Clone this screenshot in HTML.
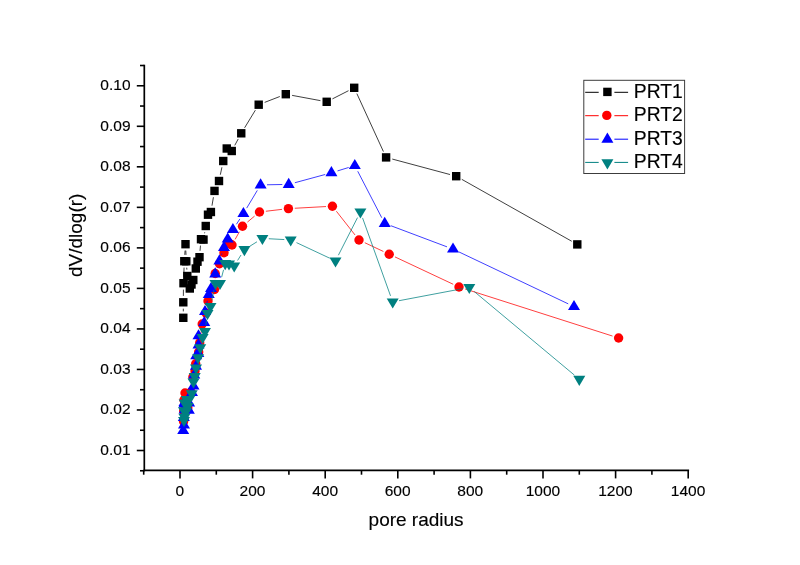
<!DOCTYPE html>
<html><head><meta charset="utf-8"><title>chart</title>
<style>html,body{margin:0;padding:0;background:#fff;width:800px;height:565px;overflow:hidden}</style></head>
<body>
<svg width="800" height="565" viewBox="0 0 800 565" style="display:block;position:absolute;left:0;top:0">
<rect width="800" height="565" fill="#fff"/>
<g stroke="#000" stroke-width="1.7" fill="none"><line x1="144.3" y1="64.7" x2="144.3" y2="471.25"/><line x1="143.45000000000002" y1="470.4" x2="689.1" y2="470.4"/></g>
<g stroke="#000" stroke-width="1.6" fill="none"><line x1="140.00" y1="470.76" x2="144.3" y2="470.76"/><line x1="136.80" y1="450.50" x2="144.3" y2="450.50"/><line x1="140.00" y1="430.24" x2="144.3" y2="430.24"/><line x1="136.80" y1="409.98" x2="144.3" y2="409.98"/><line x1="140.00" y1="389.71" x2="144.3" y2="389.71"/><line x1="136.80" y1="369.45" x2="144.3" y2="369.45"/><line x1="140.00" y1="349.19" x2="144.3" y2="349.19"/><line x1="136.80" y1="328.93" x2="144.3" y2="328.93"/><line x1="140.00" y1="308.66" x2="144.3" y2="308.66"/><line x1="136.80" y1="288.40" x2="144.3" y2="288.40"/><line x1="140.00" y1="268.14" x2="144.3" y2="268.14"/><line x1="136.80" y1="247.88" x2="144.3" y2="247.88"/><line x1="140.00" y1="227.61" x2="144.3" y2="227.61"/><line x1="136.80" y1="207.35" x2="144.3" y2="207.35"/><line x1="140.00" y1="187.09" x2="144.3" y2="187.09"/><line x1="136.80" y1="166.82" x2="144.3" y2="166.82"/><line x1="140.00" y1="146.56" x2="144.3" y2="146.56"/><line x1="136.80" y1="126.30" x2="144.3" y2="126.30"/><line x1="140.00" y1="106.04" x2="144.3" y2="106.04"/><line x1="136.80" y1="85.77" x2="144.3" y2="85.77"/><line x1="140.00" y1="65.51" x2="144.3" y2="65.51"/><line x1="143.70" y1="470.4" x2="143.70" y2="474.70"/><line x1="180.00" y1="470.4" x2="180.00" y2="478.40"/><line x1="216.30" y1="470.4" x2="216.30" y2="474.70"/><line x1="252.60" y1="470.4" x2="252.60" y2="478.40"/><line x1="288.90" y1="470.4" x2="288.90" y2="474.70"/><line x1="325.20" y1="470.4" x2="325.20" y2="478.40"/><line x1="361.50" y1="470.4" x2="361.50" y2="474.70"/><line x1="397.80" y1="470.4" x2="397.80" y2="478.40"/><line x1="434.10" y1="470.4" x2="434.10" y2="474.70"/><line x1="470.40" y1="470.4" x2="470.40" y2="478.40"/><line x1="506.70" y1="470.4" x2="506.70" y2="474.70"/><line x1="543.00" y1="470.4" x2="543.00" y2="478.40"/><line x1="579.30" y1="470.4" x2="579.30" y2="474.70"/><line x1="615.60" y1="470.4" x2="615.60" y2="478.40"/><line x1="651.90" y1="470.4" x2="651.90" y2="474.70"/><line x1="688.20" y1="470.4" x2="688.20" y2="478.40"/></g>
<g font-family="'Liberation Sans', Arial, sans-serif" font-size="15.5px" fill="#000" stroke="#000" stroke-width="0.15"><text x="130.5" y="455.00" text-anchor="end">0.01</text><text x="130.5" y="414.48" text-anchor="end">0.02</text><text x="130.5" y="373.95" text-anchor="end">0.03</text><text x="130.5" y="333.43" text-anchor="end">0.04</text><text x="130.5" y="292.90" text-anchor="end">0.05</text><text x="130.5" y="252.38" text-anchor="end">0.06</text><text x="130.5" y="211.85" text-anchor="end">0.07</text><text x="130.5" y="171.32" text-anchor="end">0.08</text><text x="130.5" y="130.80" text-anchor="end">0.09</text><text x="130.5" y="90.27" text-anchor="end">0.10</text><text x="179.90" y="495.5" text-anchor="middle">0</text><text x="252.50" y="495.5" text-anchor="middle">200</text><text x="325.10" y="495.5" text-anchor="middle">400</text><text x="397.70" y="495.5" text-anchor="middle">600</text><text x="470.30" y="495.5" text-anchor="middle">800</text><text x="542.90" y="495.5" text-anchor="middle">1000</text><text x="615.50" y="495.5" text-anchor="middle">1200</text><text x="688.10" y="495.5" text-anchor="middle">1400</text></g>
<g font-family="'Liberation Sans', Arial, sans-serif" font-size="19px" fill="#000" stroke="#000" stroke-width="0.15"><text x="416.1" y="525.7" text-anchor="middle">pore radius</text><text transform="translate(81.5,235.3) rotate(-90)" text-anchor="middle">dV/dlog(r)</text></g>
<g stroke="#000" stroke-width="0.75" fill="none"><line x1="183.30" y1="311.40" x2="183.30" y2="308.70"/><line x1="183.37" y1="295.90" x2="183.43" y2="289.60"/><line x1="183.73" y1="276.80" x2="184.07" y2="267.60"/><line x1="184.75" y1="254.82" x2="185.05" y2="250.58"/><line x1="185.80" y1="250.59" x2="186.00" y2="254.91"/><line x1="186.73" y1="267.69" x2="186.87" y2="269.61"/><line x1="200.03" y1="250.82" x2="200.47" y2="245.58"/><line x1="204.54" y1="233.29" x2="204.71" y2="232.31"/><line x1="211.98" y1="205.69" x2="213.42" y2="197.21"/><line x1="220.33" y1="174.74" x2="221.92" y2="167.26"/><line x1="234.78" y1="145.36" x2="238.22" y2="138.94"/><line x1="244.58" y1="127.84" x2="255.37" y2="110.16"/><line x1="264.67" y1="102.39" x2="279.83" y2="96.51"/><line x1="292.09" y1="95.37" x2="320.41" y2="100.63"/><line x1="332.40" y1="98.90" x2="348.50" y2="90.70"/><line x1="356.87" y1="93.62" x2="383.43" y2="151.58"/><line x1="392.28" y1="159.06" x2="450.02" y2="174.54"/><line x1="461.78" y1="179.34" x2="571.72" y2="241.26"/></g>
<g fill="#000"><rect x="179.10" y="313.60" width="8.4" height="8.4"/><rect x="179.10" y="298.10" width="8.4" height="8.4"/><rect x="179.30" y="279.00" width="8.4" height="8.4"/><rect x="180.10" y="257.00" width="8.4" height="8.4"/><rect x="181.30" y="240.00" width="8.4" height="8.4"/><rect x="182.10" y="257.10" width="8.4" height="8.4"/><rect x="183.10" y="271.80" width="8.4" height="8.4"/><rect x="185.60" y="284.30" width="8.4" height="8.4"/><rect x="187.30" y="280.30" width="8.4" height="8.4"/><rect x="189.10" y="275.80" width="8.4" height="8.4"/><rect x="191.60" y="264.30" width="8.4" height="8.4"/><rect x="193.30" y="257.50" width="8.4" height="8.4"/><rect x="195.30" y="253.00" width="8.4" height="8.4"/><rect x="196.80" y="235.00" width="8.4" height="8.4"/><rect x="199.30" y="235.40" width="8.4" height="8.4"/><rect x="201.55" y="221.80" width="8.4" height="8.4"/><rect x="203.80" y="210.50" width="8.4" height="8.4"/><rect x="206.70" y="207.80" width="8.4" height="8.4"/><rect x="210.30" y="186.70" width="8.4" height="8.4"/><rect x="214.80" y="176.80" width="8.4" height="8.4"/><rect x="219.05" y="156.80" width="8.4" height="8.4"/><rect x="222.55" y="144.30" width="8.4" height="8.4"/><rect x="227.55" y="146.80" width="8.4" height="8.4"/><rect x="237.05" y="129.10" width="8.4" height="8.4"/><rect x="254.50" y="100.50" width="8.4" height="8.4"/><rect x="281.60" y="90.00" width="8.4" height="8.4"/><rect x="322.50" y="97.60" width="8.4" height="8.4"/><rect x="350.00" y="83.60" width="8.4" height="8.4"/><rect x="381.90" y="153.20" width="8.4" height="8.4"/><rect x="452.00" y="172.00" width="8.4" height="8.4"/><rect x="573.10" y="240.20" width="8.4" height="8.4"/></g>
<g stroke="#f00" stroke-width="0.75" fill="none"><line x1="191.80" y1="385.65" x2="192.10" y2="383.35"/><line x1="200.54" y1="336.56" x2="201.36" y2="330.34"/><line x1="214.78" y1="283.11" x2="214.92" y2="279.89"/><line x1="235.12" y1="239.41" x2="239.38" y2="231.79"/><line x1="247.41" y1="222.10" x2="254.59" y2="216.10"/><line x1="265.86" y1="211.25" x2="282.04" y2="209.35"/><line x1="294.79" y1="208.25" x2="326.01" y2="206.55"/><line x1="336.36" y1="211.23" x2="355.04" y2="234.97"/><line x1="364.79" y1="242.72" x2="383.41" y2="251.48"/><line x1="394.99" y1="256.92" x2="453.21" y2="284.28"/><line x1="465.10" y1="288.95" x2="612.50" y2="336.05"/></g>
<g fill="#f00"><circle cx="183.60" cy="421.50" r="4.7"/><circle cx="183.70" cy="411.00" r="4.7"/><circle cx="187.80" cy="408.00" r="4.7"/><circle cx="184.00" cy="400.00" r="4.7"/><circle cx="185.00" cy="393.00" r="4.7"/><circle cx="191.00" cy="392.00" r="4.7"/><circle cx="192.90" cy="377.00" r="4.7"/><circle cx="195.00" cy="371.00" r="4.7"/><circle cx="195.70" cy="363.70" r="4.7"/><circle cx="198.70" cy="352.00" r="4.7"/><circle cx="199.70" cy="342.90" r="4.7"/><circle cx="202.20" cy="324.00" r="4.7"/><circle cx="206.00" cy="313.00" r="4.7"/><circle cx="208.00" cy="301.00" r="4.7"/><circle cx="214.50" cy="289.50" r="4.7"/><circle cx="215.20" cy="273.50" r="4.7"/><circle cx="219.50" cy="263.80" r="4.7"/><circle cx="224.00" cy="252.80" r="4.7"/><circle cx="229.50" cy="243.50" r="4.7"/><circle cx="232.00" cy="245.00" r="4.7"/><circle cx="242.50" cy="226.20" r="4.7"/><circle cx="259.50" cy="212.00" r="4.7"/><circle cx="288.40" cy="208.60" r="4.7"/><circle cx="332.40" cy="206.20" r="4.7"/><circle cx="359.00" cy="240.00" r="4.7"/><circle cx="389.20" cy="254.20" r="4.7"/><circle cx="459.00" cy="287.00" r="4.7"/><circle cx="618.60" cy="338.00" r="4.7"/></g>
<g stroke="#00f" stroke-width="0.75" fill="none"><line x1="201.05" y1="329.98" x2="201.70" y2="328.47"/><line x1="206.38" y1="305.35" x2="207.37" y2="300.85"/><line x1="212.76" y1="282.45" x2="213.44" y2="280.05"/><line x1="217.17" y1="267.81" x2="217.43" y2="266.99"/><line x1="221.46" y1="254.84" x2="221.94" y2="253.46"/><line x1="236.41" y1="224.25" x2="239.89" y2="218.95"/><line x1="246.69" y1="208.11" x2="257.31" y2="190.39"/><line x1="267.00" y1="184.79" x2="282.30" y2="184.51"/><line x1="294.88" y1="182.72" x2="325.22" y2="174.48"/><line x1="337.52" y1="170.92" x2="348.68" y2="167.48"/><line x1="357.74" y1="171.28" x2="381.76" y2="217.72"/><line x1="390.69" y1="225.65" x2="447.01" y2="246.85"/><line x1="458.78" y1="251.85" x2="568.22" y2="303.85"/></g>
<g fill="#00f"><polygon points="183.20,423.90 189.20,434.10 177.20,434.10"/><polygon points="184.00,418.40 190.00,428.60 178.00,428.60"/><polygon points="183.80,410.90 189.80,421.10 177.80,421.10"/><polygon points="184.60,403.40 190.60,413.60 178.60,413.60"/><polygon points="188.85,403.65 194.85,413.85 182.85,413.85"/><polygon points="184.50,395.90 190.50,406.10 178.50,406.10"/><polygon points="184.30,397.40 190.30,407.60 178.30,407.60"/><polygon points="189.10,396.40 195.10,406.60 183.10,406.60"/><polygon points="192.00,385.90 198.00,396.10 186.00,396.10"/><polygon points="193.50,379.40 199.50,389.60 187.50,389.60"/><polygon points="194.25,368.40 200.25,378.60 188.25,378.60"/><polygon points="196.00,359.50 202.00,369.70 190.00,369.70"/><polygon points="196.20,349.15 202.20,359.35 190.20,359.35"/><polygon points="198.30,346.70 204.30,356.90 192.30,356.90"/><polygon points="198.50,338.40 204.50,348.60 192.50,348.60"/><polygon points="198.50,329.15 204.50,339.35 192.50,339.35"/><polygon points="204.25,315.90 210.25,326.10 198.25,326.10"/><polygon points="205.00,304.90 211.00,315.10 199.00,315.10"/><polygon points="208.75,287.90 214.75,298.10 202.75,298.10"/><polygon points="211.00,281.90 217.00,292.10 205.00,292.10"/><polygon points="215.20,267.20 221.20,277.40 209.20,277.40"/><polygon points="219.40,254.20 225.40,264.40 213.40,264.40"/><polygon points="224.00,240.70 230.00,250.90 218.00,250.90"/><polygon points="227.70,232.40 233.70,242.60 221.70,242.60"/><polygon points="232.90,222.90 238.90,233.10 226.90,233.10"/><polygon points="243.40,206.90 249.40,217.10 237.40,217.10"/><polygon points="260.60,178.20 266.60,188.40 254.60,188.40"/><polygon points="288.70,177.70 294.70,187.90 282.70,187.90"/><polygon points="331.40,166.10 337.40,176.30 325.40,176.30"/><polygon points="354.80,158.90 360.80,169.10 348.80,169.10"/><polygon points="384.70,216.70 390.70,226.90 378.70,226.90"/><polygon points="453.00,242.40 459.00,252.60 447.00,252.60"/><polygon points="574.00,299.90 580.00,310.10 568.00,310.10"/></g>
<g stroke="#008080" stroke-width="0.75" fill="none"><line x1="205.88" y1="325.06" x2="206.62" y2="319.74"/><line x1="211.86" y1="300.15" x2="214.14" y2="289.65"/><line x1="221.63" y1="277.21" x2="223.57" y2="269.79"/><line x1="237.59" y1="260.47" x2="241.01" y2="255.03"/><line x1="249.83" y1="246.22" x2="256.97" y2="241.78"/><line x1="268.79" y1="238.74" x2="284.31" y2="239.56"/><line x1="296.49" y1="242.62" x2="329.71" y2="258.18"/><line x1="338.40" y1="255.19" x2="357.50" y2="217.61"/><line x1="362.56" y1="217.92" x2="390.54" y2="295.88"/><line x1="398.99" y1="300.71" x2="463.01" y2="288.59"/><line x1="474.21" y1="291.50" x2="574.39" y2="375.10"/></g>
<g fill="#008080"><polygon points="184.00,427.10 190.00,416.90 178.00,416.90"/><polygon points="184.40,423.85 190.40,413.65 178.40,413.65"/><polygon points="184.00,417.35 190.00,407.15 178.00,407.15"/><polygon points="186.00,418.10 192.00,407.90 180.00,407.90"/><polygon points="187.50,413.10 193.50,402.90 181.50,402.90"/><polygon points="184.65,409.60 190.65,399.40 178.65,399.40"/><polygon points="186.65,406.10 192.65,395.90 180.65,395.90"/><polygon points="189.10,406.10 195.10,395.90 183.10,395.90"/><polygon points="191.75,400.35 197.75,390.15 185.75,390.15"/><polygon points="193.50,388.60 199.50,378.40 187.50,378.40"/><polygon points="194.75,383.10 200.75,372.90 188.75,372.90"/><polygon points="196.00,374.60 202.00,364.40 190.00,364.40"/><polygon points="198.10,364.35 204.10,354.15 192.10,354.15"/><polygon points="200.25,354.35 206.25,344.15 194.25,344.15"/><polygon points="202.60,344.10 208.60,333.90 196.60,333.90"/><polygon points="205.00,338.10 211.00,327.90 199.00,327.90"/><polygon points="207.50,320.10 213.50,309.90 201.50,309.90"/><polygon points="210.50,313.10 216.50,302.90 204.50,302.90"/><polygon points="215.50,290.10 221.50,279.90 209.50,279.90"/><polygon points="220.00,290.10 226.00,279.90 214.00,279.90"/><polygon points="225.20,270.30 231.20,260.10 219.20,260.10"/><polygon points="229.00,270.60 235.00,260.40 223.00,260.40"/><polygon points="234.20,272.60 240.20,262.40 228.20,262.40"/><polygon points="244.40,256.30 250.40,246.10 238.40,246.10"/><polygon points="262.40,245.10 268.40,234.90 256.40,234.90"/><polygon points="290.70,246.60 296.70,236.40 284.70,236.40"/><polygon points="335.50,267.60 341.50,257.40 329.50,257.40"/><polygon points="360.40,218.60 366.40,208.40 354.40,208.40"/><polygon points="392.70,308.60 398.70,298.40 386.70,298.40"/><polygon points="469.30,294.10 475.30,283.90 463.30,283.90"/><polygon points="579.30,385.90 585.30,375.70 573.30,375.70"/></g>
<rect x="583.8" y="80.3" width="100.8" height="93.2" fill="#fff" stroke="#3c3c3c" stroke-width="1"/>
<g stroke="#000" stroke-width="1"><line x1="585.2" y1="92.3" x2="598.7" y2="92.3"/><line x1="614.4" y1="92.3" x2="628.1" y2="92.3"/></g><g fill="#000"><rect x="603.20" y="87.70" width="8.4" height="8.4"/></g><text x="633.8" y="98.3" font-family="'Liberation Sans', Arial, sans-serif" font-size="19.3px" fill="#000" stroke="#000" stroke-width="0.15">PRT1</text>
<g stroke="#f00" stroke-width="1"><line x1="585.2" y1="115.7" x2="598.7" y2="115.7"/><line x1="614.4" y1="115.7" x2="628.1" y2="115.7"/></g><g fill="#f00"><circle cx="606.80" cy="115.40" r="4.7"/></g><text x="633.8" y="121.4" font-family="'Liberation Sans', Arial, sans-serif" font-size="19.3px" fill="#000" stroke="#000" stroke-width="0.15">PRT2</text>
<g stroke="#00f" stroke-width="1"><line x1="585.2" y1="139.2" x2="598.7" y2="139.2"/><line x1="614.4" y1="139.2" x2="628.1" y2="139.2"/></g><g fill="#00f"><polygon points="607.40,132.50 613.40,142.70 601.40,142.70"/></g><text x="633.8" y="144.8" font-family="'Liberation Sans', Arial, sans-serif" font-size="19.3px" fill="#000" stroke="#000" stroke-width="0.15">PRT3</text>
<g stroke="#008080" stroke-width="1"><line x1="585.2" y1="162.4" x2="598.7" y2="162.4"/><line x1="614.4" y1="162.4" x2="628.1" y2="162.4"/></g><g fill="#008080"><polygon points="607.40,169.40 613.40,159.20 601.40,159.20"/></g><text x="633.8" y="167.9" font-family="'Liberation Sans', Arial, sans-serif" font-size="19.3px" fill="#000" stroke="#000" stroke-width="0.15">PRT4</text>
</svg>
</body></html>
